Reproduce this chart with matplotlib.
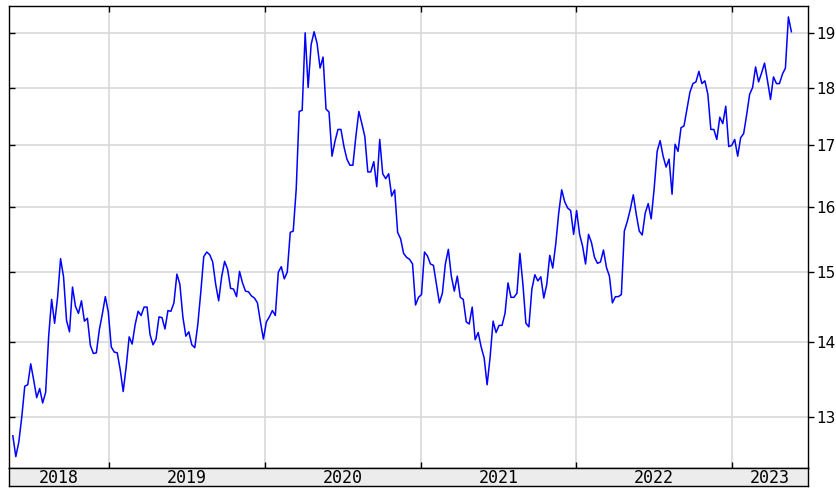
import numpy as np
import pandas as pd
import matplotlib
matplotlib.use('Agg')
import matplotlib.pyplot as plt
import matplotlib.dates as mdates
from matplotlib.ticker import FixedLocator, FixedFormatter, NullFormatter, NullLocator

# weekly values
price = [
    # 2017-08 .. 2018-06
    12.76, 12.5, 12.68, 13.0, 13.4, 13.42, 13.7, 13.48, 13.25, 13.37, 13.18, 13.32,
    14.07, 14.6, 14.26, 14.63, 15.2, 14.93, 14.3, 14.14, 14.78, 14.5, 14.4, 14.58,
    14.29, 14.33, 13.95, 13.84, 13.85, 14.17, 14.39, 14.64, 14.42, 13.93, 13.86, 13.85,
    13.62, 13.33, 13.66, 14.07, 13.97, 14.24, 14.43, 14.37, 14.49,
    # .. 2019-04
    14.49, 14.1, 13.96, 14.04, 14.35, 14.34, 14.18, 14.44, 14.43, 14.55, 14.97, 14.82,
    14.35, 14.08, 14.14, 13.96, 13.92, 14.24, 14.7, 15.23, 15.3, 15.26, 15.15, 14.82,
    14.58, 14.93, 15.16, 15.04, 14.76, 14.75, 14.64, 15.01, 14.84, 14.72, 14.71, 14.65,
    14.62, 14.55, 14.28, 14.04, 14.28, 14.35, 14.44, 14.37,
    # .. 2020-03
    15.0, 15.08, 14.9, 15.0, 15.6, 15.62, 16.28, 17.58, 17.6, 19.0, 18.0, 18.78,
    19.02, 18.8, 18.35, 18.55, 17.62, 17.57, 16.82, 17.07, 17.27, 17.27, 16.98, 16.77,
    16.67, 16.67, 17.15, 17.58, 17.37, 17.15, 16.56, 16.56, 16.73, 16.32, 17.1, 16.53,
    16.45, 16.53, 16.17, 16.27, 15.6, 15.5, 15.28, 15.22, 15.19, 15.12, 14.52, 14.63,
    # .. 2021-03
    14.67, 15.3, 15.24, 15.12, 15.1, 14.82, 14.55, 14.69, 15.12, 15.34, 14.94, 14.72,
    14.94, 14.63, 14.6, 14.28, 14.25, 14.49, 14.03, 14.13, 13.93, 13.78, 13.42, 13.79,
    14.29, 14.13, 14.23, 14.23, 14.4, 14.84, 14.63, 14.63, 14.69, 15.28, 14.82, 14.26,
    14.21, 14.75, 14.96, 14.87, 14.93, 14.62, 14.82, 15.25, 15.06, 15.42, 15.9, 16.27,
    # .. 2022-01
    16.08, 15.98, 15.94, 15.57, 15.94, 15.57, 15.39, 15.12, 15.57, 15.44, 15.22, 15.13,
    15.15, 15.33, 15.07, 14.94, 14.55, 14.64, 14.64, 14.67, 15.62, 15.77, 15.96, 16.19,
    15.88, 15.62, 15.56, 15.9, 16.05, 15.81, 16.29, 16.9, 17.08, 16.82, 16.64, 16.77,
    16.2, 17.02, 16.9, 17.3,
    # .. 2022-08
    17.33, 17.62, 17.92, 18.07, 18.1, 18.29, 18.07, 18.12, 17.88, 17.27, 17.27, 17.1,
    17.48, 17.37, 17.67, 16.98, 17.0, 17.1, 16.82, 17.13, 17.2, 17.52, 17.88, 18.0,
    18.37, 18.1, 18.26, 18.44, 18.12, 17.79, 18.19, 18.07, 18.07, 18.24, 18.35, 19.3,
    19.02,
]
dates = pd.date_range('2017-08-18', periods=len(price), freq='7D')

# fiscal years (Apr-Mar), labelled by the year they end in
fy_labels = ['2018', '2019', '2020', '2021', '2022', '2023']
fy_starts = pd.to_datetime(['2018-04-01', '2019-04-01', '2020-04-01', '2021-04-01', '2022-04-01'])
y_ticks = [13, 14, 15, 16, 17, 18, 19]

x_lo = mdates.date2num(pd.Timestamp('2017-08-09'))
x_hi = mdates.date2num(pd.Timestamp('2022-09-27'))
y_lo, y_hi = 12.36, 19.51

fig = plt.figure(figsize=(8.36, 4.88), dpi=100)
W, H = 836.0, 488.0
ax = fig.add_axes([9 / W, (H - 468) / H, 799 / W, 462 / H])
band = fig.add_axes([9 / W, (H - 486) / H, 799 / W, 18 / H])

# twin only used for the inward ticks on the left edge
# (twinx moves ax's ticks to the left, so set up ax afterwards)
ax_l = ax.twinx()

ax.plot(dates, price, color='#0000ff', lw=1.1, zorder=3)

ax.set_yscale('log')
ax.set_ylim(y_lo, y_hi)
ax.set_xlim(x_lo, x_hi)

ax.yaxis.set_major_locator(FixedLocator(y_ticks))
ax.yaxis.set_minor_locator(NullLocator())
ax.yaxis.set_major_formatter(FixedFormatter([str(t) for t in y_ticks]))
ax.yaxis.tick_right()
ax.tick_params(axis='y', which='major', right=True, left=False, labelright=True,
               labelleft=False, direction='out', length=4, width=1, labelsize=11, pad=2)

ax_l.set_yscale('log')
ax_l.set_ylim(y_lo, y_hi)
ax_l.yaxis.set_major_locator(FixedLocator(y_ticks))
ax_l.yaxis.set_minor_locator(NullLocator())
ax_l.yaxis.set_major_formatter(NullFormatter())
ax_l.tick_params(axis='y', which='both', left=True, right=False, labelleft=False,
                 labelright=False, direction='in', length=4, width=1)
for s in ax_l.spines.values():
    s.set_visible(False)

ax.xaxis.set_major_locator(FixedLocator(mdates.date2num(fy_starts)))
ax.xaxis.set_major_formatter(NullFormatter())
ax.tick_params(axis='x', which='major', top=True, bottom=True, direction='in',
               length=4, width=1)

ax.grid(True, color='#d9d9d9', lw=1.2, zorder=0)
ax.set_axisbelow(True)
for s in ax.spines.values():
    s.set_color('black')
    s.set_linewidth(1)

# gray band with fiscal year labels
band.set_facecolor('#ececec')
band.set_xlim(x_lo, x_hi)
band.set_ylim(0, 1)
band.set_xticks([])
band.set_yticks([])
for s in band.spines.values():
    s.set_linewidth(1)
edges = [x_lo] + list(mdates.date2num(fy_starts)) + [x_hi]
for i, lab in enumerate(fy_labels):
    mid = (edges[i] + edges[i + 1]) / 2
    band.text(mid, 0.45, lab, ha='center', va='center', fontsize=12,
              family='DejaVu Sans Mono', color='black')

fig.savefig('out.png', dpi=100)
